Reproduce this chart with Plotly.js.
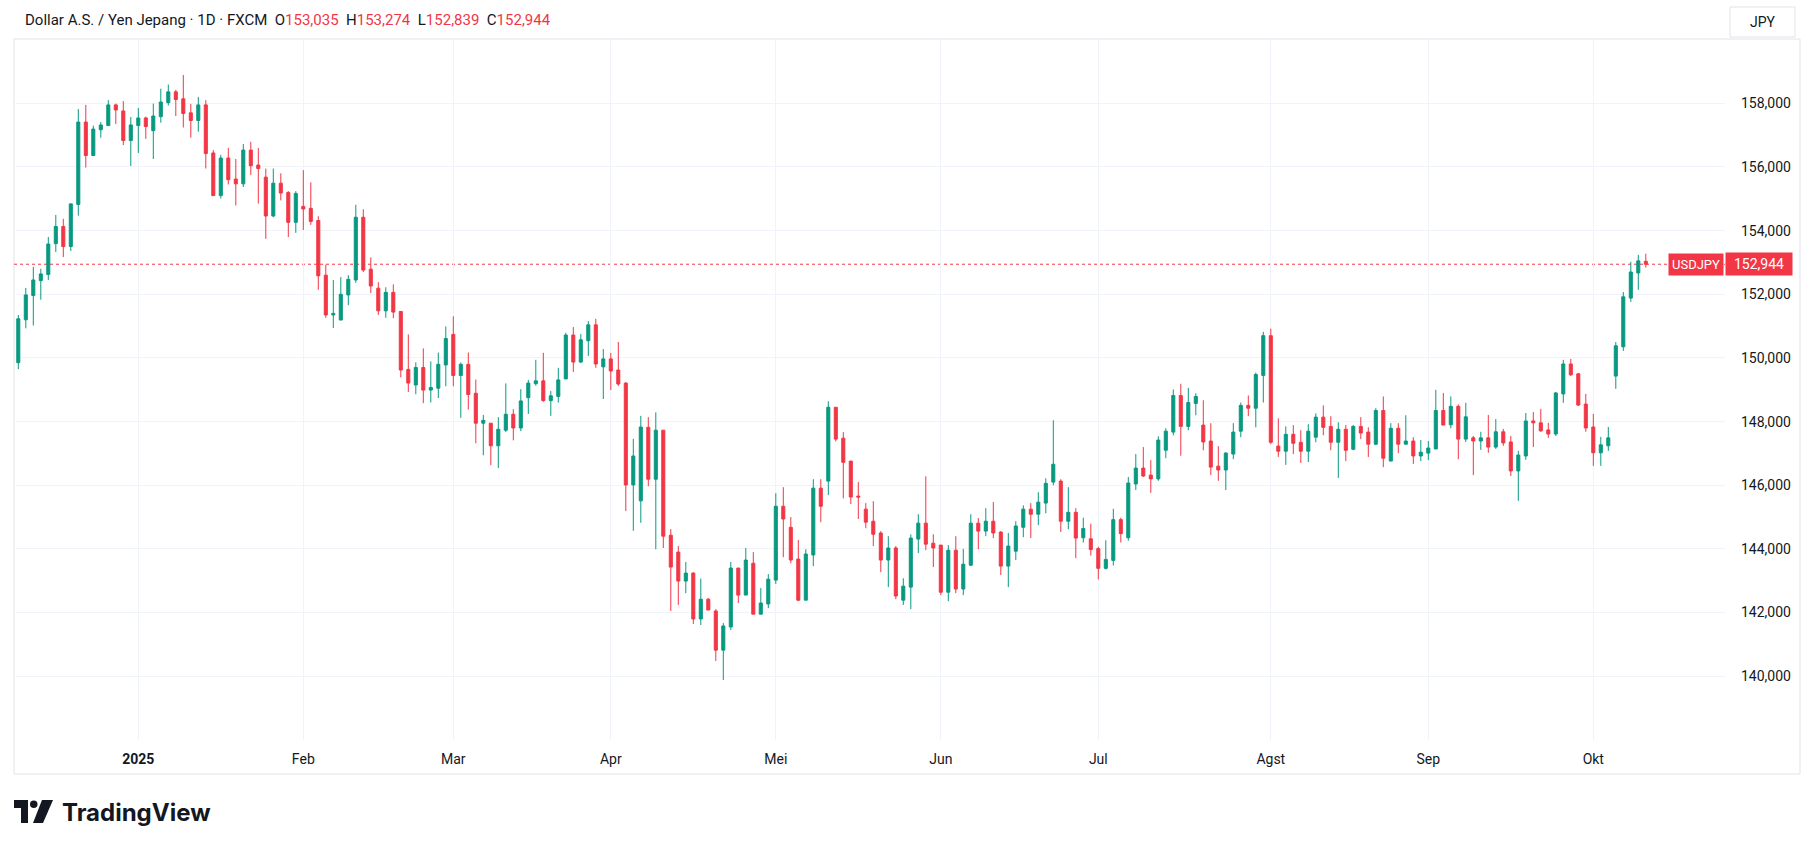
<!DOCTYPE html>
<html><head><meta charset="utf-8">
<script src="https://cdn.plot.ly/plotly-3.0.1.min.js"></script>
<style>html,body{margin:0;padding:0;background:#fff;overflow:hidden}#chart{width:1813px;height:849px}</style>
</head><body><div id="chart"></div>
<script>
// ---- categories: trading days (weekdays, FXCM holidays skipped) ----
const firstDay = '2024-12-09';
const lastDay = '2025-10-10';
const holidays = ['2024-12-25', '2025-01-01'];

// ---- series values (USD/JPY daily OHLC) ----
const openVals = [
149.85,151.20,151.96,152.43,152.62,153.59,154.13,153.50,154.82,157.41,
156.36,157.17,157.30,157.95,157.76,156.83,157.30,157.54,157.14,157.58,
158.02,158.36,158.14,157.70,157.46,157.95,156.44,155.10,156.28,155.62,
155.47,156.53,156.06,155.68,154.46,155.49,155.20,154.26,154.76,154.70,
154.32,152.60,151.35,151.19,151.98,152.45,154.42,152.79,152.19,151.48,
152.06,151.46,149.64,149.15,149.70,148.99,149.05,149.78,150.74,149.45,
149.80,148.89,147.95,147.95,147.24,147.73,148.23,147.80,148.75,149.19,
149.28,148.66,148.79,149.34,150.72,149.87,150.54,151.04,149.72,149.97,
149.62,149.21,146.01,145.51,147.82,146.19,147.73,144.43,143.90,142.99,
143.24,141.80,142.42,142.05,140.82,141.55,143.40,142.55,143.55,141.95,
142.27,143.02,145.34,144.68,143.68,142.39,143.81,145.91,146.13,148.45,
147.48,146.76,145.66,145.25,144.87,144.50,143.65,144.03,142.39,142.80,
144.31,144.81,144.18,144.12,142.64,143.96,142.74,143.49,144.81,144.56,
144.87,144.53,143.46,143.93,144.68,145.25,145.09,145.44,146.10,146.13,
144.87,145.15,144.35,144.32,144.01,143.39,143.64,144.92,144.35,146.04,
146.54,146.32,146.20,147.10,147.67,148.82,147.85,148.57,147.89,147.39,
146.60,146.48,146.98,147.70,148.51,148.42,149.45,150.70,147.23,147.07,
147.60,147.35,147.07,147.51,148.14,147.85,147.35,147.76,147.13,147.85,
147.67,147.29,148.35,146.76,147.79,147.29,147.39,146.92,147.01,147.14,
148.35,147.90,148.48,147.45,147.49,147.39,147.49,147.20,147.68,147.36,
146.45,146.92,148.02,147.96,147.74,147.61,148.87,149.81,149.50,148.55,
147.83,147.02,147.24,149.43,150.35,151.88,152.67,153.035];

const highVals = [
151.35,152.20,152.86,152.80,153.80,154.49,154.37,154.86,157.82,157.95,
157.30,157.41,158.10,157.99,158.07,157.57,157.85,157.58,157.99,158.46,
158.59,158.42,158.89,157.98,158.20,158.10,156.53,156.38,156.60,156.25,
156.72,156.79,156.60,155.95,155.95,155.80,155.24,155.24,155.90,155.52,
154.45,152.93,152.45,152.54,152.60,154.81,154.67,153.16,152.38,152.22,
152.31,151.46,150.74,149.86,150.30,149.89,150.17,150.99,151.31,149.86,
150.17,149.32,148.21,147.95,148.14,149.20,148.39,149.02,149.31,149.94,
150.16,148.96,149.69,150.79,150.97,150.75,151.16,151.23,150.28,150.16,
150.50,149.24,147.46,148.18,148.14,148.29,147.73,144.62,144.09,143.59,
143.27,143.07,142.46,142.11,141.67,143.59,143.40,144.03,143.90,142.77,
143.21,145.75,145.94,145.00,144.28,143.99,146.19,146.19,148.64,148.45,
147.67,146.76,146.10,145.44,145.50,144.56,144.40,144.09,143.08,144.46,
145.09,146.28,144.46,144.12,144.12,144.40,144.00,145.09,144.97,145.28,
145.47,144.56,144.50,144.87,145.37,145.44,145.78,146.22,148.04,146.19,
145.94,145.28,144.98,144.79,144.07,144.27,145.26,144.98,146.26,146.98,
147.20,146.79,147.54,147.79,149.01,149.19,149.06,148.89,148.67,147.95,
147.23,147.04,147.95,148.60,148.82,149.54,150.82,150.92,148.10,147.85,
147.89,147.73,147.92,148.26,148.51,148.17,147.98,147.89,147.89,148.14,
147.82,148.42,148.79,147.95,147.95,148.20,147.51,147.42,147.39,149.00,
148.90,148.79,148.54,148.59,147.55,147.68,148.21,148.08,147.77,147.55,
147.08,148.27,148.30,148.40,147.96,148.93,149.94,149.97,149.53,148.87,
148.24,147.52,147.83,150.50,152.07,153.02,153.24,153.274];

const lowVals = [
149.65,150.93,151.02,151.83,152.45,153.33,153.17,153.36,154.47,155.98,
156.36,156.92,157.30,157.35,156.69,156.03,156.44,156.88,156.25,157.39,
157.93,157.60,157.24,156.92,157.11,155.95,155.10,155.01,155.45,154.79,
155.37,155.75,154.85,153.74,154.42,154.95,153.80,153.93,154.02,154.18,
152.14,151.26,150.94,151.19,151.66,152.36,152.70,152.04,151.35,151.26,
151.25,149.39,148.93,148.86,148.58,148.60,148.74,149.11,149.11,148.12,
148.38,147.32,146.94,146.63,146.54,147.67,147.41,147.70,148.24,149.13,
148.62,148.18,148.60,149.34,149.56,149.84,150.06,149.69,148.71,148.99,
149.12,145.19,144.57,144.82,145.97,143.99,144.03,142.05,142.24,142.61,
141.64,141.61,142.08,140.48,139.88,141.45,142.30,142.55,141.95,141.95,
142.14,142.90,143.74,143.55,142.36,142.39,143.46,144.84,145.69,147.38,
145.59,145.41,144.94,144.65,144.09,143.27,142.80,142.42,142.24,142.11,
143.87,143.96,143.43,142.55,142.36,142.61,142.55,143.46,143.99,144.40,
144.34,143.18,142.80,143.65,144.37,144.34,144.75,145.12,146.00,144.53,
144.62,143.71,144.20,143.79,143.04,143.35,143.48,144.20,144.26,145.85,
146.26,145.76,146.14,146.85,147.57,146.93,147.73,148.20,147.10,146.32,
146.14,145.85,146.82,147.51,148.17,147.82,148.60,147.29,146.89,146.64,
146.98,146.70,146.73,147.35,147.57,147.10,146.23,146.76,147.10,147.45,
146.89,147.26,146.57,146.76,147.01,147.29,146.67,146.76,146.79,147.14,
147.89,147.79,146.82,147.36,146.32,147.11,147.02,147.14,147.24,146.29,
145.51,146.80,147.20,147.68,147.49,147.55,148.59,149.43,148.49,147.68,
146.61,146.61,147.08,149.03,150.22,151.76,152.14,152.839];

const closeVals = [
151.23,151.98,152.45,152.64,153.58,154.13,153.50,154.84,157.41,156.36,
157.19,157.32,157.95,157.79,156.83,157.32,157.54,157.27,157.60,158.04,
158.36,158.12,157.68,157.46,157.95,156.42,155.10,156.28,155.60,155.47,
156.53,156.04,155.95,154.46,155.49,155.18,154.26,155.17,154.68,154.29,
152.58,151.35,151.40,152.00,152.47,154.42,152.76,152.26,151.48,152.06,
151.44,149.62,149.21,149.70,148.99,149.07,149.80,150.61,149.45,149.80,
148.85,147.95,148.04,147.24,147.76,148.23,147.80,148.65,149.21,149.28,
148.66,148.81,149.31,150.72,149.87,150.57,151.04,149.81,149.97,149.59,
149.18,146.01,146.92,147.83,146.19,147.73,144.40,143.43,142.99,143.24,
141.80,142.42,142.08,140.82,141.58,143.40,142.55,143.65,141.95,142.30,
143.05,145.34,144.94,143.65,142.39,143.84,145.91,145.34,148.45,147.45,
146.72,145.63,145.63,144.84,144.46,143.65,144.03,142.52,142.83,144.34,
144.81,144.15,144.03,142.64,143.96,142.74,143.52,144.81,144.56,144.87,
144.50,143.46,144.09,144.72,145.25,145.09,145.47,146.06,146.66,144.87,
145.15,144.34,144.64,143.98,143.39,143.67,144.92,144.48,146.07,146.54,
146.29,146.20,147.42,147.70,148.82,147.85,148.60,148.79,147.36,146.57,
146.48,147.01,147.67,148.51,148.42,149.48,150.70,147.35,147.07,147.60,
147.32,147.07,147.70,148.14,147.82,147.35,147.76,147.10,147.85,147.64,
147.29,148.35,146.85,147.79,147.29,147.39,146.92,147.04,147.17,148.35,
147.89,148.48,147.45,148.15,147.39,147.49,147.20,147.68,147.33,146.45,
146.95,148.02,147.96,147.71,147.61,148.90,149.81,149.47,148.52,147.80,
147.02,147.27,147.49,150.38,151.92,152.70,153.05,152.944];

// ---- tick labels ----
const monthKeys = ['2025-01','2025-02','2025-03','2025-04','2025-05','2025-06','2025-07','2025-08','2025-09','2025-10'];
const monthLabels = ['<b>2025</b>','Feb','Mar','Apr','Mei','Jun','Jul','Agst','Sep','Okt'];
const priceTicks = [140,142,144,146,148,150,152,154,156,158];
const symbolTitle = 'Dollar A.S. / Yen Jepang · 1D · FXCM';
const symbolCode = 'USDJPY';
const currency = 'JPY';

// build the date categories
const dates = [];
for (let d = new Date(firstDay + 'T00:00:00Z'); d <= new Date(lastDay + 'T00:00:00Z'); d.setUTCDate(d.getUTCDate() + 1)) {
  const wd = d.getUTCDay();
  const s = d.toISOString().slice(0, 10);
  if (wd === 0 || wd === 6 || holidays.includes(s)) continue;
  dates.push(s);
}

const tickVals = monthKeys.map(k => dates.find(d => d.startsWith(k)));

const W = 1813, H = 849;
const M = {l: 14, r: 88, t: 39, b: 109};
const PW = W - M.l - M.r, PH = H - M.t - M.b;
const px = x => (x - M.l) / PW;
const py = y => (H - M.b - y) / PH;

const GREEN = '#089981', RED = '#F23645', TXT = '#131722', GRID = '#f0f3fa', BORDER = '#e0e3eb';
const FONT = 'Roboto, "Liberation Sans", Arial, sans-serif';
const fmt = v => v.toFixed(3).replace('.', ',');

const n = closeVals.length;
const lastO = openVals[n - 1], lastH = highVals[n - 1], lastL = lowVals[n - 1], lastC = closeVals[n - 1];
const lastColor = lastC >= lastO ? GREEN : RED;

const trace = {
  type: 'candlestick',
  x: dates,
  open: openVals, high: highVals, low: lowVals, close: closeVals,
  increasing: {line: {color: GREEN, width: 1}, fillcolor: GREEN},
  decreasing: {line: {color: RED, width: 1}, fillcolor: RED},
  whiskerwidth: 0,
  hoverinfo: 'skip'
};

const sp = '&nbsp;';
const header = symbolTitle + sp + sp +
  `<span style="color:${TXT}">O</span><span style="color:${lastColor}">${fmt(lastO)}</span>${sp}${sp}` +
  `<span style="color:${TXT}">H</span><span style="color:${lastColor}">${fmt(lastH)}</span>${sp}${sp}` +
  `<span style="color:${TXT}">L</span><span style="color:${lastColor}">${fmt(lastL)}</span>${sp}${sp}` +
  `<span style="color:${TXT}">C</span><span style="color:${lastColor}">${fmt(lastC)}</span>`;

const layout = {
  width: W, height: H,
  margin: M,
  paper_bgcolor: '#ffffff', plot_bgcolor: '#ffffff',
  separators: ',.',
  showlegend: false,
  hovermode: false,
  boxgap: 0.42,
  font: {family: FONT, color: TXT, size: 14},
  xaxis: {
    type: 'category',
    range: [-0.573, 227.56],
    rangeslider: {visible: false},
    tickmode: 'array', tickvals: tickVals, ticktext: monthLabels,
    showgrid: true, gridcolor: GRID, gridwidth: 1,
    ticks: '', showline: false, zeroline: false,
    ticklabelstandoff: 9,
    tickfont: {family: FONT, size: 14, color: TXT},
    fixedrange: true
  },
  yaxis: {
    side: 'right',
    range: [137.997, 160.02],
    tickmode: 'array', tickvals: priceTicks,
    tickformat: '.3f',
    showgrid: true, gridcolor: GRID, gridwidth: 1,
    ticks: '', showline: false, zeroline: false,
    ticklabelstandoff: 15,
    tickfont: {family: FONT, size: 14, color: TXT},
    fixedrange: true
  },
  shapes: [
    // chart frame
    {type: 'rect', xref: 'paper', yref: 'paper', x0: px(14), x1: px(1800), y0: py(774), y1: py(39),
     line: {color: BORDER, width: 1}, fillcolor: 'rgba(0,0,0,0)', layer: 'below'},
    // last price dotted line
    {type: 'line', xref: 'paper', yref: 'y', x0: 0, x1: 1, y0: lastC, y1: lastC,
     line: {color: RED, width: 1, dash: 'dot'}, layer: 'between'},
    // currency button
    {type: 'rect', xref: 'paper', yref: 'paper', x0: px(1730), x1: px(1795), y0: py(37), y1: py(7),
     line: {color: BORDER, width: 1}, fillcolor: '#ffffff', layer: 'above'},
    // TradingView logo mark
    {type: 'rect', xref: 'paper', yref: 'paper', x0: px(14), x1: px(28), y0: py(808), y1: py(800),
     line: {width: 0}, fillcolor: TXT, layer: 'above'},
    {type: 'rect', xref: 'paper', yref: 'paper', x0: px(21), x1: px(28), y0: py(823), y1: py(800),
     line: {width: 0}, fillcolor: TXT, layer: 'above'},
    {type: 'circle', xref: 'paper', yref: 'paper', x0: px(30), x1: px(37.5), y0: py(808), y1: py(800.5),
     line: {width: 0}, fillcolor: TXT, layer: 'above'},
    {type: 'path', xref: 'paper', yref: 'paper',
     path: `M ${px(42)} ${py(800)} L ${px(53)} ${py(800)} L ${px(43)} ${py(823)} L ${px(33)} ${py(823)} Z`,
     line: {width: 0}, fillcolor: TXT, layer: 'above'}
  ],
  annotations: [
    {xref: 'paper', yref: 'paper', x: px(23), y: py(20), xanchor: 'left', yanchor: 'middle',
     showarrow: false, text: header, font: {family: FONT, size: 15, color: TXT}},
    {xref: 'paper', yref: 'y', x: px(1724), y: lastC, xanchor: 'right', yanchor: 'middle',
     showarrow: false, text: symbolCode, bgcolor: RED, borderpad: 3,
     font: {family: FONT, size: 13, color: '#ffffff'}},
    {xref: 'paper', yref: 'y', x: px(1725), y: lastC, xanchor: 'left', yanchor: 'middle',
     showarrow: false, text: fmt(lastC), bgcolor: RED, borderpad: 3, width: 60,
     font: {family: FONT, size: 14, color: '#ffffff'}},
    {xref: 'paper', yref: 'paper', x: px(1762.5), y: py(22), xanchor: 'center', yanchor: 'middle',
     showarrow: false, text: currency, font: {family: FONT, size: 14, color: TXT}},
    {xref: 'paper', yref: 'paper', x: px(60), y: py(812), xanchor: 'left', yanchor: 'middle',
     showarrow: false, text: '<b>TradingView</b>', font: {family: 'Inter, Roboto, sans-serif', size: 24, color: TXT}}
  ]
};

Plotly.newPlot('chart', [trace], layout, {displayModeBar: false, staticPlot: true});
</script>
</body></html>
